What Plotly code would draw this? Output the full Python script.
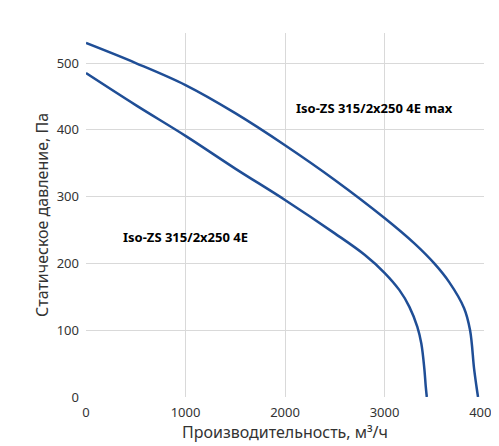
import plotly.graph_objects as go

# Iso-ZS 315/2x250 4E max
q_max = [0, 500, 1000, 1500, 2000, 2500, 3000, 3300, 3500, 3650, 3800, 3860, 3900, 3925, 3940]
p_max = [530, 500, 467, 425, 377, 325, 268, 230, 200, 172, 133, 100, 43, 15, 0]

# Iso-ZS 315/2x250 4E
q_std = [0, 500, 1000, 1500, 2000, 2500, 2800, 3000, 3150, 3250, 3330, 3370, 3400, 3415, 3425]
p_std = [485, 437, 391, 342, 295, 245, 213, 186, 160, 135, 105, 80, 43, 15, 0]

line_color = '#1f4e96'

fig = go.Figure()
fig.add_trace(go.Scatter(x=q_max, y=p_max, mode='lines', line=dict(color=line_color, width=2.5, shape='spline')))
fig.add_trace(go.Scatter(x=q_std, y=p_std, mode='lines', line=dict(color=line_color, width=2.5, shape='spline')))

fig.add_annotation(x=2900, y=433, text='<b>Iso-ZS 315/2x250 4E max</b>', showarrow=False, font=dict(size=13, color='black'))
fig.add_annotation(x=1000, y=240, text='<b>Iso-ZS 315/2x250 4E</b>', showarrow=False, font=dict(size=13, color='black'))

fig.update_layout(
    width=499, height=446,
    plot_bgcolor='white', paper_bgcolor='white',
    showlegend=False,
    font=dict(family='Noto Sans', size=13, color='#333'),
    margin=dict(l=78, r=23, t=25, b=57, autoexpand=False),
    xaxis=dict(range=[0, 4000], dtick=1000, showgrid=True, gridcolor='#d9d9d9', automargin=False,
               title=dict(text='Производительность, м³/ч', standoff=2), ticks='', zeroline=False,
               ticklabelstandoff=6),
    yaxis=dict(range=[0, 545], dtick=100, showgrid=True, gridcolor='#d9d9d9', automargin=False,
               title=dict(text='Статическое давление, Па', standoff=4), ticks='', zeroline=False,
               ticklabelstandoff=6),
)

fig.write_html('out.html')
